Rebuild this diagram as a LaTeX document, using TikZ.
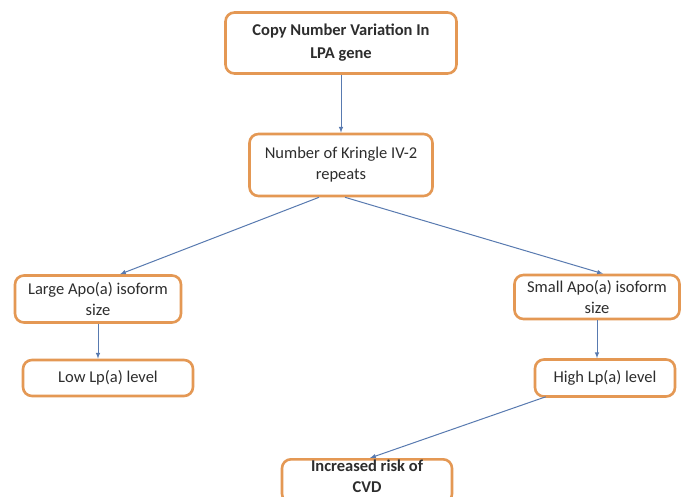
\documentclass[tikz,border=0pt]{standalone}
\usepackage{fontspec}
\setmainfont{Carlito}
\usetikzlibrary{arrows}

\definecolor{boxorange}{RGB}{228,152,84}
\definecolor{arrowblue}{RGB}{88,122,176}
\definecolor{txtgray}{RGB}{45,45,45}

\begin{document}
\begin{tikzpicture}[>=latex, x=1pt, y=-1pt,
  box/.style={draw=boxorange, line width=2.6pt, rounded corners=9pt, fill=white,
    align=center, text=txtgray, font=\fontsize{16.5}{21}\selectfont, inner sep=2pt},
  link/.style={->, arrowblue, line width=1pt}]

\clip (0,0) rectangle (683,497);
\fill[white] (0,0) rectangle (683,497);

\node[box, minimum width=231, minimum height=61, font=\bfseries\fontsize{16.5}{23}\selectfont] (cnv) at (341,43) {Copy Number Variation In\\LPA gene};
\node[box, minimum width=183, minimum height=62] (kringle) at (341,165) {Number of Kringle IV-2\\repeats};
\node[box, minimum width=166, minimum height=47] (large) at (98,299) {Large Apo(a) isoform\\size};
\node[box, minimum width=165, minimum height=44] (small) at (597,297) {Small Apo(a) isoform\\size};
\node[box, minimum width=170, minimum height=36] (low) at (108,378) {Low Lp(a) level};
\node[box, minimum width=140, minimum height=37] (high) at (605,378) {High Lp(a) level};
\node[box, anchor=north, minimum width=170, inner ysep=1pt, font=\bfseries\fontsize{16.5}{21}\selectfont] (risk) at (367,458) {Increased risk of\\CVD\\[-12pt]\mbox{}};

\draw[link] (cnv) -- (kringle);
\draw[link] (kringle.south) ++(-22,0) coordinate (kl) (kl) -- (120,0 |- large.north);
\draw[link] (kringle.south) ++(4,0) coordinate (kr) (kr) -- (603,0 |- small.north);
\draw[link] (large) -- (large |- low.north);
\draw[link] (small) -- (small |- high.north);
\draw[link] (high.south west) ++(12,-1) coordinate (hl) (hl) -- (370,0 |- risk.north);

\end{tikzpicture}
\end{document}
